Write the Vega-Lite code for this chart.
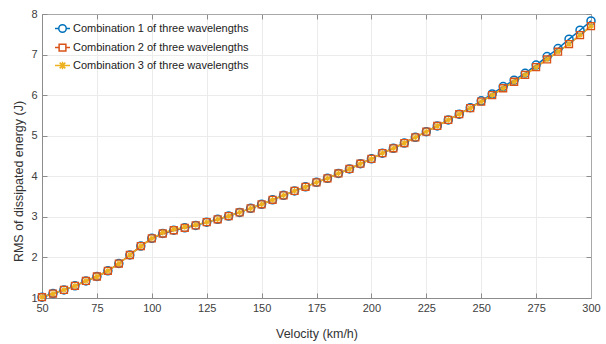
{
  "$schema": "https://vega.github.io/schema/vega-lite/v6.json",
  "width": 549,
  "height": 284,
  "autosize": "none",
  "padding": {"left": 42, "top": 14, "right": 15, "bottom": 46},
  "background": "white",
  "config": {
    "font": "Liberation Sans",
    "view": {"stroke": null},
    "axis": {
      "labelFont": "Liberation Sans",
      "labelFontSize": 11,
      "labelColor": "#404040",
      "titleFont": "Liberation Sans",
      "titleFontSize": 12.5,
      "titleFontWeight": "normal",
      "titleColor": "#333333",
      "gridColor": "#ebebeb",
      "gridWidth": 1,
      "domainColor": "#8c8c8c",
      "tickColor": "#8c8c8c",
      "tickSize": -5
    }
  },
  "data": {
    "values": [
      {"v": 50, "e": 1.02, "combo": "Combination 1 of three wavelengths"},
      {"v": 55, "e": 1.11, "combo": "Combination 1 of three wavelengths"},
      {"v": 60, "e": 1.20, "combo": "Combination 1 of three wavelengths"},
      {"v": 65, "e": 1.30, "combo": "Combination 1 of three wavelengths"},
      {"v": 70, "e": 1.42, "combo": "Combination 1 of three wavelengths"},
      {"v": 75, "e": 1.53, "combo": "Combination 1 of three wavelengths"},
      {"v": 80, "e": 1.67, "combo": "Combination 1 of three wavelengths"},
      {"v": 85, "e": 1.85, "combo": "Combination 1 of three wavelengths"},
      {"v": 90, "e": 2.06, "combo": "Combination 1 of three wavelengths"},
      {"v": 95, "e": 2.28, "combo": "Combination 1 of three wavelengths"},
      {"v": 100, "e": 2.47, "combo": "Combination 1 of three wavelengths"},
      {"v": 105, "e": 2.59, "combo": "Combination 1 of three wavelengths"},
      {"v": 110, "e": 2.67, "combo": "Combination 1 of three wavelengths"},
      {"v": 115, "e": 2.73, "combo": "Combination 1 of three wavelengths"},
      {"v": 120, "e": 2.79, "combo": "Combination 1 of three wavelengths"},
      {"v": 125, "e": 2.87, "combo": "Combination 1 of three wavelengths"},
      {"v": 130, "e": 2.94, "combo": "Combination 1 of three wavelengths"},
      {"v": 135, "e": 3.02, "combo": "Combination 1 of three wavelengths"},
      {"v": 140, "e": 3.11, "combo": "Combination 1 of three wavelengths"},
      {"v": 145, "e": 3.21, "combo": "Combination 1 of three wavelengths"},
      {"v": 150, "e": 3.31, "combo": "Combination 1 of three wavelengths"},
      {"v": 155, "e": 3.42, "combo": "Combination 1 of three wavelengths"},
      {"v": 160, "e": 3.53, "combo": "Combination 1 of three wavelengths"},
      {"v": 165, "e": 3.64, "combo": "Combination 1 of three wavelengths"},
      {"v": 170, "e": 3.74, "combo": "Combination 1 of three wavelengths"},
      {"v": 175, "e": 3.85, "combo": "Combination 1 of three wavelengths"},
      {"v": 180, "e": 3.95, "combo": "Combination 1 of three wavelengths"},
      {"v": 185, "e": 4.07, "combo": "Combination 1 of three wavelengths"},
      {"v": 190, "e": 4.18, "combo": "Combination 1 of three wavelengths"},
      {"v": 195, "e": 4.31, "combo": "Combination 1 of three wavelengths"},
      {"v": 200, "e": 4.43, "combo": "Combination 1 of three wavelengths"},
      {"v": 205, "e": 4.57, "combo": "Combination 1 of three wavelengths"},
      {"v": 210, "e": 4.69, "combo": "Combination 1 of three wavelengths"},
      {"v": 215, "e": 4.82, "combo": "Combination 1 of three wavelengths"},
      {"v": 220, "e": 4.96, "combo": "Combination 1 of three wavelengths"},
      {"v": 225, "e": 5.10, "combo": "Combination 1 of three wavelengths"},
      {"v": 230, "e": 5.24, "combo": "Combination 1 of three wavelengths"},
      {"v": 235, "e": 5.39, "combo": "Combination 1 of three wavelengths"},
      {"v": 240, "e": 5.53, "combo": "Combination 1 of three wavelengths"},
      {"v": 245, "e": 5.69, "combo": "Combination 1 of three wavelengths"},
      {"v": 250, "e": 5.86, "combo": "Combination 1 of three wavelengths"},
      {"v": 255, "e": 6.03, "combo": "Combination 1 of three wavelengths"},
      {"v": 260, "e": 6.21, "combo": "Combination 1 of three wavelengths"},
      {"v": 265, "e": 6.37, "combo": "Combination 1 of three wavelengths"},
      {"v": 270, "e": 6.54, "combo": "Combination 1 of three wavelengths"},
      {"v": 275, "e": 6.74, "combo": "Combination 1 of three wavelengths"},
      {"v": 280, "e": 6.95, "combo": "Combination 1 of three wavelengths"},
      {"v": 285, "e": 7.15, "combo": "Combination 1 of three wavelengths"},
      {"v": 290, "e": 7.38, "combo": "Combination 1 of three wavelengths"},
      {"v": 295, "e": 7.60, "combo": "Combination 1 of three wavelengths"},
      {"v": 300, "e": 7.83, "combo": "Combination 1 of three wavelengths"},

      {"v": 50, "e": 1.02, "combo": "Combination 2 of three wavelengths"},
      {"v": 55, "e": 1.11, "combo": "Combination 2 of three wavelengths"},
      {"v": 60, "e": 1.20, "combo": "Combination 2 of three wavelengths"},
      {"v": 65, "e": 1.30, "combo": "Combination 2 of three wavelengths"},
      {"v": 70, "e": 1.42, "combo": "Combination 2 of three wavelengths"},
      {"v": 75, "e": 1.53, "combo": "Combination 2 of three wavelengths"},
      {"v": 80, "e": 1.67, "combo": "Combination 2 of three wavelengths"},
      {"v": 85, "e": 1.85, "combo": "Combination 2 of three wavelengths"},
      {"v": 90, "e": 2.06, "combo": "Combination 2 of three wavelengths"},
      {"v": 95, "e": 2.28, "combo": "Combination 2 of three wavelengths"},
      {"v": 100, "e": 2.47, "combo": "Combination 2 of three wavelengths"},
      {"v": 105, "e": 2.59, "combo": "Combination 2 of three wavelengths"},
      {"v": 110, "e": 2.67, "combo": "Combination 2 of three wavelengths"},
      {"v": 115, "e": 2.73, "combo": "Combination 2 of three wavelengths"},
      {"v": 120, "e": 2.79, "combo": "Combination 2 of three wavelengths"},
      {"v": 125, "e": 2.87, "combo": "Combination 2 of three wavelengths"},
      {"v": 130, "e": 2.94, "combo": "Combination 2 of three wavelengths"},
      {"v": 135, "e": 3.02, "combo": "Combination 2 of three wavelengths"},
      {"v": 140, "e": 3.11, "combo": "Combination 2 of three wavelengths"},
      {"v": 145, "e": 3.21, "combo": "Combination 2 of three wavelengths"},
      {"v": 150, "e": 3.31, "combo": "Combination 2 of three wavelengths"},
      {"v": 155, "e": 3.42, "combo": "Combination 2 of three wavelengths"},
      {"v": 160, "e": 3.53, "combo": "Combination 2 of three wavelengths"},
      {"v": 165, "e": 3.64, "combo": "Combination 2 of three wavelengths"},
      {"v": 170, "e": 3.74, "combo": "Combination 2 of three wavelengths"},
      {"v": 175, "e": 3.85, "combo": "Combination 2 of three wavelengths"},
      {"v": 180, "e": 3.95, "combo": "Combination 2 of three wavelengths"},
      {"v": 185, "e": 4.07, "combo": "Combination 2 of three wavelengths"},
      {"v": 190, "e": 4.18, "combo": "Combination 2 of three wavelengths"},
      {"v": 195, "e": 4.31, "combo": "Combination 2 of three wavelengths"},
      {"v": 200, "e": 4.43, "combo": "Combination 2 of three wavelengths"},
      {"v": 205, "e": 4.57, "combo": "Combination 2 of three wavelengths"},
      {"v": 210, "e": 4.69, "combo": "Combination 2 of three wavelengths"},
      {"v": 215, "e": 4.82, "combo": "Combination 2 of three wavelengths"},
      {"v": 220, "e": 4.96, "combo": "Combination 2 of three wavelengths"},
      {"v": 225, "e": 5.10, "combo": "Combination 2 of three wavelengths"},
      {"v": 230, "e": 5.24, "combo": "Combination 2 of three wavelengths"},
      {"v": 235, "e": 5.39, "combo": "Combination 2 of three wavelengths"},
      {"v": 240, "e": 5.53, "combo": "Combination 2 of three wavelengths"},
      {"v": 245, "e": 5.68, "combo": "Combination 2 of three wavelengths"},
      {"v": 250, "e": 5.84, "combo": "Combination 2 of three wavelengths"},
      {"v": 255, "e": 6.00, "combo": "Combination 2 of three wavelengths"},
      {"v": 260, "e": 6.17, "combo": "Combination 2 of three wavelengths"},
      {"v": 265, "e": 6.33, "combo": "Combination 2 of three wavelengths"},
      {"v": 270, "e": 6.50, "combo": "Combination 2 of three wavelengths"},
      {"v": 275, "e": 6.69, "combo": "Combination 2 of three wavelengths"},
      {"v": 280, "e": 6.88, "combo": "Combination 2 of three wavelengths"},
      {"v": 285, "e": 7.07, "combo": "Combination 2 of three wavelengths"},
      {"v": 290, "e": 7.26, "combo": "Combination 2 of three wavelengths"},
      {"v": 295, "e": 7.48, "combo": "Combination 2 of three wavelengths"},
      {"v": 300, "e": 7.70, "combo": "Combination 2 of three wavelengths"},

      {"v": 50, "e": 1.02, "combo": "Combination 3 of three wavelengths"},
      {"v": 55, "e": 1.11, "combo": "Combination 3 of three wavelengths"},
      {"v": 60, "e": 1.20, "combo": "Combination 3 of three wavelengths"},
      {"v": 65, "e": 1.30, "combo": "Combination 3 of three wavelengths"},
      {"v": 70, "e": 1.42, "combo": "Combination 3 of three wavelengths"},
      {"v": 75, "e": 1.53, "combo": "Combination 3 of three wavelengths"},
      {"v": 80, "e": 1.67, "combo": "Combination 3 of three wavelengths"},
      {"v": 85, "e": 1.85, "combo": "Combination 3 of three wavelengths"},
      {"v": 90, "e": 2.06, "combo": "Combination 3 of three wavelengths"},
      {"v": 95, "e": 2.28, "combo": "Combination 3 of three wavelengths"},
      {"v": 100, "e": 2.47, "combo": "Combination 3 of three wavelengths"},
      {"v": 105, "e": 2.61, "combo": "Combination 3 of three wavelengths"},
      {"v": 110, "e": 2.69, "combo": "Combination 3 of three wavelengths"},
      {"v": 115, "e": 2.75, "combo": "Combination 3 of three wavelengths"},
      {"v": 120, "e": 2.80, "combo": "Combination 3 of three wavelengths"},
      {"v": 125, "e": 2.87, "combo": "Combination 3 of three wavelengths"},
      {"v": 130, "e": 2.94, "combo": "Combination 3 of three wavelengths"},
      {"v": 135, "e": 3.02, "combo": "Combination 3 of three wavelengths"},
      {"v": 140, "e": 3.11, "combo": "Combination 3 of three wavelengths"},
      {"v": 145, "e": 3.21, "combo": "Combination 3 of three wavelengths"},
      {"v": 150, "e": 3.31, "combo": "Combination 3 of three wavelengths"},
      {"v": 155, "e": 3.42, "combo": "Combination 3 of three wavelengths"},
      {"v": 160, "e": 3.53, "combo": "Combination 3 of three wavelengths"},
      {"v": 165, "e": 3.64, "combo": "Combination 3 of three wavelengths"},
      {"v": 170, "e": 3.74, "combo": "Combination 3 of three wavelengths"},
      {"v": 175, "e": 3.85, "combo": "Combination 3 of three wavelengths"},
      {"v": 180, "e": 3.95, "combo": "Combination 3 of three wavelengths"},
      {"v": 185, "e": 4.07, "combo": "Combination 3 of three wavelengths"},
      {"v": 190, "e": 4.18, "combo": "Combination 3 of three wavelengths"},
      {"v": 195, "e": 4.31, "combo": "Combination 3 of three wavelengths"},
      {"v": 200, "e": 4.43, "combo": "Combination 3 of three wavelengths"},
      {"v": 205, "e": 4.57, "combo": "Combination 3 of three wavelengths"},
      {"v": 210, "e": 4.69, "combo": "Combination 3 of three wavelengths"},
      {"v": 215, "e": 4.82, "combo": "Combination 3 of three wavelengths"},
      {"v": 220, "e": 4.96, "combo": "Combination 3 of three wavelengths"},
      {"v": 225, "e": 5.10, "combo": "Combination 3 of three wavelengths"},
      {"v": 230, "e": 5.24, "combo": "Combination 3 of three wavelengths"},
      {"v": 235, "e": 5.39, "combo": "Combination 3 of three wavelengths"},
      {"v": 240, "e": 5.53, "combo": "Combination 3 of three wavelengths"},
      {"v": 245, "e": 5.68, "combo": "Combination 3 of three wavelengths"},
      {"v": 250, "e": 5.84, "combo": "Combination 3 of three wavelengths"},
      {"v": 255, "e": 6.00, "combo": "Combination 3 of three wavelengths"},
      {"v": 260, "e": 6.17, "combo": "Combination 3 of three wavelengths"},
      {"v": 265, "e": 6.33, "combo": "Combination 3 of three wavelengths"},
      {"v": 270, "e": 6.50, "combo": "Combination 3 of three wavelengths"},
      {"v": 275, "e": 6.69, "combo": "Combination 3 of three wavelengths"},
      {"v": 280, "e": 6.88, "combo": "Combination 3 of three wavelengths"},
      {"v": 285, "e": 7.07, "combo": "Combination 3 of three wavelengths"},
      {"v": 290, "e": 7.26, "combo": "Combination 3 of three wavelengths"},
      {"v": 295, "e": 7.48, "combo": "Combination 3 of three wavelengths"},
      {"v": 300, "e": 7.70, "combo": "Combination 3 of three wavelengths"}
    ]
  },
  "layer": [
    {
      "mark": {"type": "line", "strokeWidth": 1.5, "clip": false},
      "encoding": {
        "x": {
          "field": "v", "type": "quantitative",
          "scale": {"domain": [50, 300], "nice": false, "zero": false},
          "axis": {"title": "Velocity (km/h)", "values": [50, 75, 100, 125, 150, 175, 200, 225, 250, 275, 300], "labelPadding": 9, "titlePadding": 14, "labelFlush": false}
        },
        "y": {
          "field": "e", "type": "quantitative",
          "scale": {"domain": [1, 8], "nice": false, "zero": false},
          "axis": {"title": "RMS of dissipated energy (J)", "values": [1, 2, 3, 4, 5, 6, 7, 8], "labelPadding": 10, "titleY": 167, "titlePadding": 5, "labelFlush": false}
        },
        "color": {
          "field": "combo", "type": "nominal",
          "scale": {"range": ["#0072BD", "#D95319", "#EDB120"]},
          "legend": {
            "title": null,
            "orient": "none",
            "legendX": 12,
            "legendY": 6,
            "labelFontSize": 11,
            "labelColor": "#222222",
            "labelFont": "Liberation Sans",
            "labelLimit": 400,
            "symbolSize": 225,
            "symbolStrokeWidth": 1.5,
            "rowPadding": 3,
            "labelOffset": 2,
            "encode": {
              "symbols": {
                "update": {
                  "shape": {"signal": "indexof(datum.value, '1 of') > 0 ? 'M-1,0L-0.5,0M0.5,0L1,0M-0.5,0A0.5,0.5 0 1,1 0.5,0A0.5,0.5 0 1,1 -0.5,0' : indexof(datum.value, '2 of') > 0 ? 'M-1,0L-0.45,0M0.45,0L1,0M-0.45,-0.45L0.45,-0.45L0.45,0.45L-0.45,0.45Z' : 'M-1,0L1,0M0,-0.5L0,0.5M-0.38,-0.38L0.38,0.38M-0.38,0.38L0.38,-0.38'"},
                  "fill": {"value": "transparent"}
                }
              }
            }
          }
        }
      }
    },
    {
      "mark": {"type": "point", "filled": false, "clip": false, "opacity": 1},
      "encoding": {
        "x": {"field": "v", "type": "quantitative", "scale": {"domain": [50, 300], "nice": false, "zero": false},
          "axis": {"orient": "top", "labels": false, "title": null, "grid": false, "values": [50, 75, 100, 125, 150, 175, 200, 225, 250, 275, 300], "domainColor": "#a8a8a8"}},
        "y": {"field": "e", "type": "quantitative", "scale": {"domain": [1, 8], "nice": false, "zero": false},
          "axis": {"orient": "right", "labels": false, "title": null, "grid": false, "values": [1, 2, 3, 4, 5, 6, 7, 8], "domainColor": "#a8a8a8"}},
        "color": {"field": "combo", "type": "nominal", "scale": {"range": ["#0072BD", "#D95319", "#F0A800"]}, "legend": null},
        "shape": {
          "field": "combo", "type": "nominal",
          "scale": {"range": ["circle", "square", "M-1,0L1,0M0,-1L0,1M-0.7,-0.7L0.7,0.7M-0.7,0.7L0.7,-0.7"]},
          "legend": null
        },
        "size": {
          "field": "combo", "type": "nominal",
          "scale": {"range": [64, 32, 60]},
          "legend": null
        },
        "strokeWidth": {
          "field": "combo", "type": "nominal",
          "scale": {"range": [1.5, 1.2, 3.5]},
          "legend": null
        }
      }
    }
  ],
  "resolve": {"axis": {"x": "independent", "y": "independent"}}
}
